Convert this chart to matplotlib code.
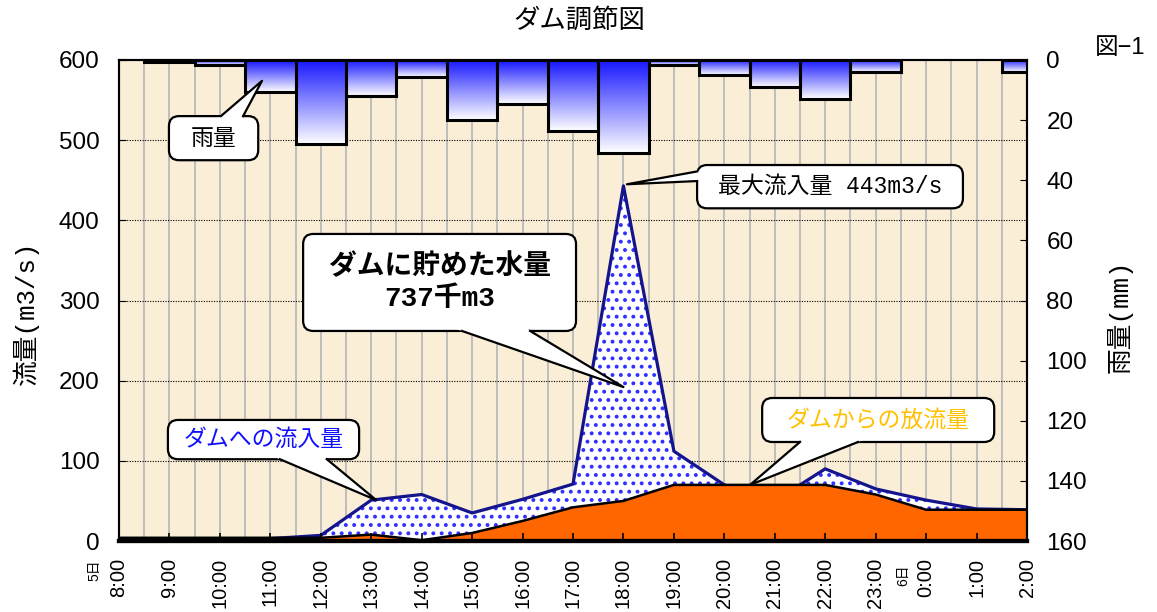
import numpy as np
import matplotlib
matplotlib.use('Agg')
import matplotlib.pyplot as plt
from matplotlib.patches import FancyBboxPatch, Polygon
from matplotlib.lines import Line2D
from matplotlib.colors import LinearSegmentedColormap

plt.rcParams['font.family'] = ['Liberation Sans', 'Noto Sans CJK JP']
plt.rcParams['hatch.linewidth'] = 1.6
MONO = ['Liberation Mono', 'Noto Sans CJK JP']

# ---------------- data ----------------
hours = ['8:00', '9:00', '10:00', '11:00', '12:00', '13:00', '14:00', '15:00',
         '16:00', '17:00', '18:00', '19:00', '20:00', '21:00', '22:00', '23:00',
         '0:00', '1:00', '2:00']
inflow = [3, 3, 3, 3, 7, 51, 58, 35, 52, 71, 443, 112, 70, 50, 90, 65, 51, 40, 39]
outflow = [4, 4, 4, 4, 4, 8, 1, 10, 25, 42, 50, 70, 70, 70, 70, 58, 39, 39, 39]
rain = [0, 0.5, 1.5, 10.5, 28, 12, 5.5, 20, 14.5, 23.5, 31, 1.5, 5, 9, 13, 4, 0, 0, 4]
flow_ticks = [0, 100, 200, 300, 400, 500, 600]
rain_ticks = [0, 20, 40, 60, 80, 100, 120, 140, 160]

W, H = 1157, 612
fig = plt.figure(figsize=(W / 100, H / 100), dpi=100)
ax = fig.add_axes([119 / W, 1 - 541 / H, 908 / W, 481 / H])
x = np.arange(len(hours))
ax.set_facecolor('#FAEED6')

# grid (manual so that it stays beneath the areas)
for gx in np.arange(0.5, len(hours) - 1, 0.5):
    ax.axvline(gx, color='#bdbdbd', lw=1.4, zorder=0.5)
for gy in flow_ticks[1:-1]:
    ax.axhline(gy, color='black', lw=0.8, ls=(0, (1, 1.3)), zorder=0.6)

# flows
ax.fill_between(x, inflow, 0, facecolor='white', edgecolor='#3030ff',
                hatch='..', linewidth=0, zorder=1.0)
ax.plot(x, inflow, color='#14148c', lw=2.3, zorder=1.1)
ax.fill_between(x, outflow, 0, facecolor='#FF6600', edgecolor='none', zorder=1.2)
ax.plot(x, outflow, color='black', lw=1.8, zorder=1.3)

ax.set_ylim(0, 600)
ax.set_yticks(flow_ticks)
ax.set_xticks(x)
ax.set_xticklabels(hours, rotation=90, fontsize=14.5)
ax.tick_params(axis='x', direction='in', length=6, width=1.2, pad=12, top=False)
ax.tick_params(axis='y', direction='in', length=5, labelsize=17.5, pad=14)
for s in ['left', 'right', 'top']:
    ax.spines[s].set_linewidth(1.5)
ax.spines['bottom'].set_linewidth(3)

# rain on the secondary axis
ax2 = ax.twinx()
cmap = LinearSegmentedColormap.from_list('rain', ['#ffffff', '#1414ff'])
grad = np.linspace(0, 1, 256).reshape(-1, 1)
for xi, r in zip(x, rain):
    if r > 0:
        ax2.imshow(grad, extent=[xi - 0.5, xi + 0.5, r, 0], origin='lower',
                   cmap=cmap, aspect='auto', interpolation='bilinear', zorder=2)
        ax2.bar(xi, r, width=1.0, fill=False, edgecolor='black', lw=2.2, zorder=3)
ax2.set_ylim(160, 0)
ax2.set_yticks(rain_ticks)
ax2.tick_params(axis='y', direction='in', length=5, labelsize=17.5, pad=14)
for s in ['left', 'right', 'top']:
    ax2.spines[s].set_linewidth(1.5)
ax2.spines['bottom'].set_linewidth(3)
ax.set_xlim(0, len(hours) - 1)
ax2.set_xlim(0, len(hours) - 1)

# ---------------- callouts ----------------
ASPECT = (1 / 0.8017) / (1 / 50.44)


def callout(text, box, base, tip, color='black', size=16.5, weight='normal'):
    x0, y0, x1, y1 = box
    patch = FancyBboxPatch((x0, y0), x1 - x0, y1 - y0,
                           boxstyle='round,pad=0,rounding_size=0.2',
                           mutation_aspect=ASPECT, fc='white', ec='black', lw=1.6,
                           transform=ax.transData, zorder=10, clip_on=False)
    ax2.add_artist(patch)
    b1, b2 = base
    t = tip

    def ext(b, k=1.12):
        return (t[0] + (b[0] - t[0]) * k, t[1] + (b[1] - t[1]) * k)

    poly = Polygon([ext(b1), t, ext(b2)], closed=True, fc='white', ec='none',
                   transform=ax.transData, zorder=11, clip_on=False)
    ax2.add_artist(poly)
    ln = Line2D([b1[0], t[0], b2[0]], [b1[1], t[1], b2[1]], color='black', lw=1.6,
                transform=ax.transData, zorder=12, clip_on=False)
    ax2.add_artist(ln)
    ax2.text((x0 + x1) / 2, (y0 + y1) / 2, text, transform=ax.transData,
             ha='center', va='center', fontsize=size, color=color, family=MONO,
             fontweight=weight, zorder=13, linespacing=1.3)


callout('雨量', (0.99, 475, 2.76, 530), ((2.02, 530), (2.46, 530)), (2.835, 574))
callout('最大流入量 443m3/s', (11.46, 415, 16.73, 469),
        ((11.46, 461), (11.46, 449)), (10.07, 445))
callout('ダムに貯めた水量\n737千m3', (3.65, 262, 9.06, 383),
        ((6.8, 262), (8.15, 262)), (10.0, 192), size=20, weight='bold')
callout('ダムへの流入量', (0.97, 102, 4.76, 151),
        ((3.19, 102), (4.12, 102)), (5.1, 51), color='#1010ff')
callout('ダムからの放流量', (12.75, 123.5, 17.35, 178.4),
        ((13.5, 123.5), (14.65, 123.5)), (12.51, 70), color='#FFC000')

# ---------------- texts ----------------
fig.text(579 / W, 1 - 20 / H, 'ダム調節図', ha='center', va='center', fontsize=19)
fig.text(1120 / W, 1 - 48 / H, '図−1', ha='center', va='center', fontsize=17)
fig.text(26 / W, 1 - 313 / H, '流量(m3/s)', rotation=90, ha='center', va='center',
         fontsize=18.5, family=MONO)
fig.text(1120 / W, 1 - 316 / H, '雨量(mm)', rotation=90, ha='center', va='center',
         fontsize=18.5, family=MONO)
fig.text(94 / W, 1 - 559 / H, '5日', rotation=90, ha='center', va='top', fontsize=10)
fig.text(903 / W, 1 - 564 / H, '6日', rotation=90, ha='center', va='top', fontsize=10)

fig.savefig('out.png', dpi=100)
